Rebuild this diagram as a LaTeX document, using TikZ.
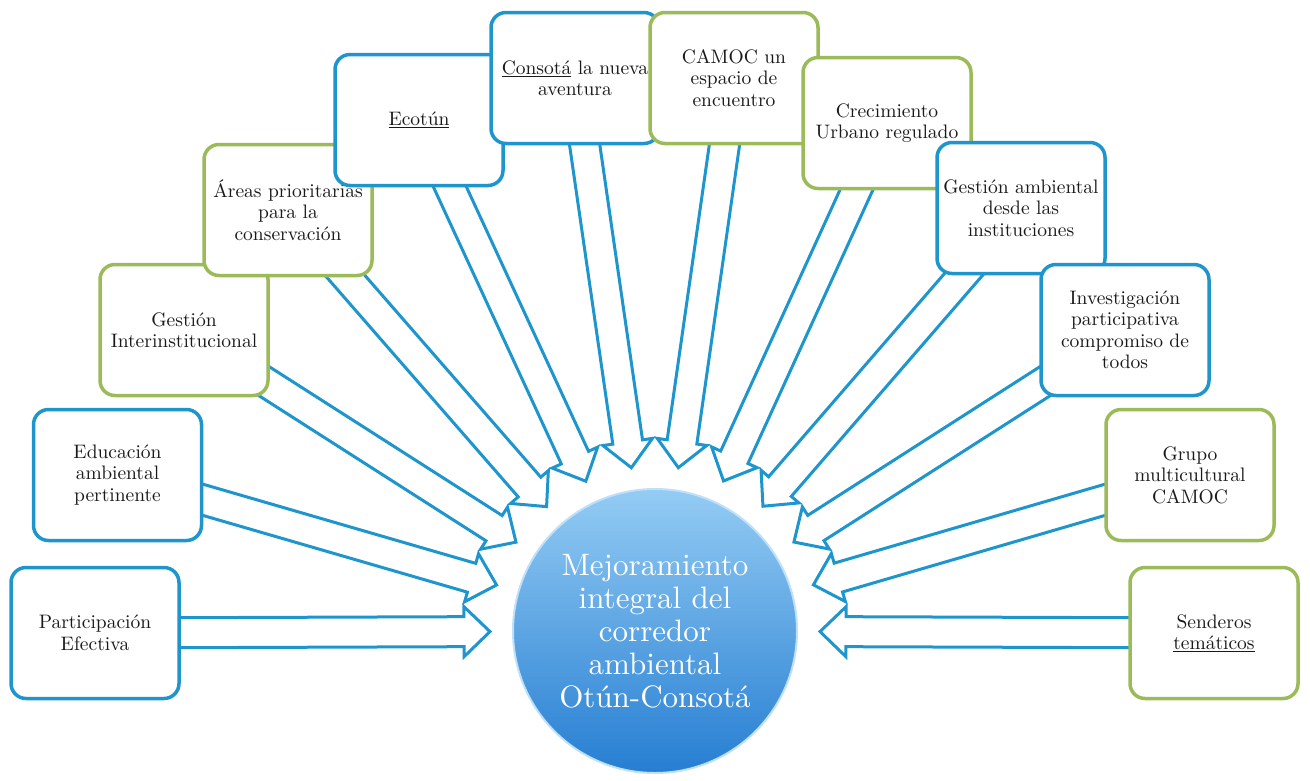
\documentclass[tikz,border=0pt]{standalone}
\usepackage{fontspec}
\setmainfont{lmroman10-regular.otf}
\usepackage{tikz}
\usepackage{xcolor}
\usetikzlibrary{calc}
\definecolor{ideablue}{RGB}{30,150,205}
\definecolor{ideagreen}{RGB}{155,187,89}
\definecolor{hubtop}{RGB}{148,204,244}
\definecolor{hubbottom}{RGB}{38,126,210}
\pgfdeclarelayer{background}
\pgfsetlayers{background,main}
\tikzstyle{idea}=[rectangle, rounded corners=15pt, fill=white, line width=3.5pt, minimum width=168pt, minimum height=131pt, inner sep=1pt, text width=166pt, align=center, text=black!90, font=\fontsize{19.5}{21.5}\selectfont]
\tikzstyle{bluebox}=[idea, draw=ideablue]
\tikzstyle{greenbox}=[idea, draw=ideagreen]
\tikzstyle{hub}=[circle, minimum size=284pt, inner sep=0pt, top color=hubtop, bottom color=hubbottom, draw=hubtop!60!white, line width=2pt, align=center, text=white, font=\fontsize{31}{33}\selectfont]
\tikzstyle{push}=[draw=ideablue, fill=white, line width=3pt, line join=miter]
% hollow block arrow from a box towards the hub
\newcommand{\push}[1]{%
  \coordinate (#1-tip)  at ($(hub.center)!165pt!(#1.center)$);
  \coordinate (#1-neck) at ($(hub.center)!191pt!(#1.center)$);
  \draw[push] ($(#1.center)!15pt!90:(hub.center)$) -- ($(#1-neck)!15pt!90:(hub.center)$)
    -- ($(#1-neck)!25pt!90:(hub.center)$) -- (#1-tip) -- ($(#1-neck)!25pt!-90:(hub.center)$)
    -- ($(#1-neck)!15pt!-90:(hub.center)$) -- ($(#1.center)!15pt!-90:(hub.center)$) -- cycle;}

\begin{document}
\begin{tikzpicture}[x=1pt, y=-1pt]
    \useasboundingbox (0,0) rectangle (1310,780);
    \node[bluebox]  (part)          at (95,633)    {Participación\\Efectiva};
    \node[bluebox]  (edu)           at (117.5,475) {Educación\\ambiental\\pertinente};
    \node[greenbox] (interinst)     at (184,330)   {Gestión\\Interinstitucional};
    \node[greenbox] (areas)         at (288,210)   {Áreas prioritarias\\para la\\conservación};
    \node[bluebox]  (ecotun)        at (419,120)   {\underline{Ecotún}};
    \node[bluebox]  (consota)       at (575,78)    {\underline{Consotá} la nueva\\aventura};
    \node[greenbox] (camoc)         at (734,78)    {CAMOC un\\espacio de\\encuentro};
    \node[greenbox] (crecimiento)   at (887,123)   {Crecimiento\\Urbano regulado};
    \node[bluebox]  (gestion)       at (1021,208)  {Gestión ambiental\\desde las\\instituciones};
    \node[bluebox]  (investigacion) at (1125,330)  {Investigación\\participativa\\compromiso de\\todos};
    \node[greenbox] (grupo)         at (1190,475)  {Grupo\\multicultural\\CAMOC};
    \node[greenbox] (senderos)      at (1214,633)  {Senderos\\\underline{temáticos}};
    \node[hub]      (hub)           at (655,631)   {Mejoramiento\\integral del\\corredor\\ambiental\\Otún-Consotá};

    \begin{pgfonlayer}{background}
    \push{part}
    \push{edu}
    \push{interinst}
    \push{areas}
    \push{ecotun}
    \push{consota}
    \push{camoc}
    \push{crecimiento}
    \push{gestion}
    \push{investigacion}
    \push{grupo}
    \push{senderos}
    \end{pgfonlayer}
\end{tikzpicture}
\end{document}
